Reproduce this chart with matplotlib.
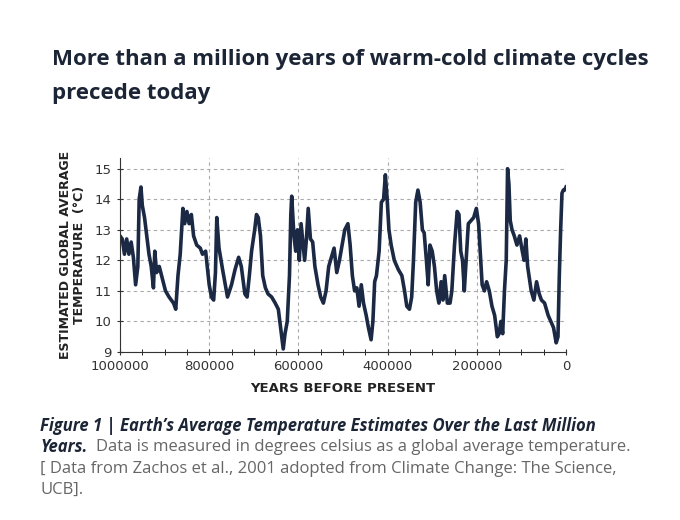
import matplotlib
matplotlib.use('Agg')
import matplotlib.pyplot as plt
from matplotlib.ticker import MultipleLocator

# kyr before present, temperature (°C)
kyr = [1000, 995, 990, 985, 980, 975, 970, 965, 960, 957, 953, 950, 945, 940, 935, 930, 925, 922, 918, 912,
       905, 898, 890, 880, 875, 870, 865, 859, 855, 850, 845, 840, 835, 828, 820, 815, 808, 800, 795, 790,
       786, 783, 778, 770, 764, 759, 750, 742, 734, 728, 720, 715, 710, 705, 698, 694, 690, 685, 680, 674,
       668, 660, 652, 645, 640, 634, 630, 625, 620, 617, 615, 610, 606, 602, 598, 594, 590, 586, 582, 578,
       573, 568, 563, 556, 550, 544, 538, 532, 526, 520, 514, 508, 502, 496, 489, 484, 479, 474, 469, 464,
       459, 454, 448, 443, 437, 433, 429, 425, 419, 414, 409, 405, 401, 397, 392, 385, 376, 368, 362, 357,
       351, 346, 342, 337, 332, 327, 322, 318, 313, 309, 305, 300, 295, 290, 285, 280, 276, 272, 266, 260,
       256, 250, 244, 240, 236, 232, 228, 224, 219, 213, 207, 201, 196, 192, 188, 183, 178, 172, 166, 160,
       154, 150, 146, 142, 138, 134, 131, 128, 125, 121, 116, 110, 104, 98, 94, 90, 86, 82, 78, 72,
       66, 60, 55, 48, 40, 34, 28, 22, 18, 15, 12, 9, 6, 3, 0]
temp = [12.8, 12.7, 12.2, 12.7, 12.2, 12.6, 12.1, 11.2, 11.8, 14.0, 14.4, 13.8, 13.4, 12.8, 12.2, 11.8, 11.1, 12.3, 11.6, 11.8,
        11.4, 11.0, 10.8, 10.6, 10.4, 11.5, 12.2, 13.7, 13.2, 13.6, 13.2, 13.5, 12.8, 12.5, 12.4, 12.2, 12.3, 11.2, 10.8, 10.7,
        11.6, 13.4, 12.4, 11.7, 11.2, 10.8, 11.2, 11.7, 12.1, 11.8, 10.9, 10.8, 11.5, 12.3, 13.0, 13.5, 13.4, 12.8, 11.5, 11.1,
        10.9, 10.8, 10.6, 10.4, 9.8, 9.1, 9.6, 10.0, 11.5, 13.5, 14.1, 12.8, 12.3, 13.0, 12.0, 13.2, 12.6, 12.0, 12.7, 13.7,
        12.7, 12.6, 11.8, 11.2, 10.8, 10.6, 11.0, 11.8, 12.1, 12.4, 11.6, 12.0, 12.5, 13.0, 13.2, 12.5, 11.5, 11.0, 11.1, 10.5,
        11.2, 10.6, 10.2, 9.8, 9.4, 10.0, 11.3, 11.5, 12.3, 13.9, 14.0, 14.8, 14.0, 13.0, 12.5, 12.0, 11.7, 11.5, 11.0, 10.5,
        10.4, 10.8, 12.0, 13.9, 14.3, 13.9, 13.0, 12.9, 12.0, 11.2, 12.5, 12.3, 11.8, 11.0, 10.6, 11.3, 10.7, 11.5, 10.6, 10.6,
        11.0, 12.5, 13.6, 13.5, 12.3, 12.0, 11.0, 12.0, 13.2, 13.3, 13.4, 13.7, 13.2, 12.2, 11.2, 11.0, 11.3, 11.0, 10.5, 10.2,
        9.5, 9.6, 10.0, 9.6, 11.0, 12.0, 15.0, 14.5, 13.3, 13.0, 12.8, 12.5, 12.8, 12.3, 12.0, 12.7, 11.8, 11.4, 11.0, 10.7,
        11.3, 10.9, 10.7, 10.6, 10.2, 10.0, 9.8, 9.3, 9.5, 11.5, 13.0, 14.2, 14.3, 14.3, 14.4]
years = [k * 1000 for k in kyr]

navy = '#1b2945'
fig = plt.figure(figsize=(6.8, 5.2), dpi=100)
fig.patch.set_facecolor('white')

fig.text(52 / 680, 1 - 60 / 520, 'More than a million years of warm-cold climate cycles', fontsize=16,
         fontweight='bold', color='#1c2535', va='center', family='Open Sans')
fig.text(52 / 680, 1 - 93 / 520, 'precede today', fontsize=16,
         fontweight='bold', color='#1c2535', va='center', family='Open Sans')

ax = fig.add_axes([120 / 680, 1 - 352 / 520, 446 / 680, 194 / 520])
ax.plot(years, temp, color=navy, lw=2.6, solid_joinstyle='round')
ax.set_xlim(1000000, 0)
ax.set_ylim(9, 15.35)
ax.set_xticks([1000000, 800000, 600000, 400000, 200000, 0])
ax.set_xticklabels(['1000000', '800000', '600000', '400000', '200000', '0'])
ax.xaxis.set_minor_locator(MultipleLocator(50000))
ax.set_yticks(range(9, 16))
ax.grid(True, which='major', linestyle=(0, (3, 3)), color='#aaaaaa', lw=0.8)
for s in ['top', 'right']:
    ax.spines[s].set_visible(False)
for s in ['left', 'bottom']:
    ax.spines[s].set_color('#333333')
ax.tick_params(labelsize=9.5, colors='#333333', direction='inout', length=5)
ax.tick_params(which='minor', direction='inout', length=4)
ax.set_xlabel('YEARS BEFORE PRESENT', fontsize=9.5, fontweight='bold', color='#222222', labelpad=6)
ax.set_ylabel('ESTIMATED GLOBAL AVERAGE\nTEMPERATURE  (°C)', fontsize=9, fontweight='bold',
              color='#222222', labelpad=6, linespacing=1.1)

cap = dict(fontsize=12, va='center', family='Open Sans')
fig.text(40 / 680, 1 - 426 / 520, 'Figure 1 | Earth\u2019s Average Temperature Estimates Over the Last Million',
         fontweight='bold', style='italic', color='#1c2535', **cap)
fig.text(40 / 680, 1 - 447 / 520, 'Years.', fontweight='bold', style='italic', color='#1c2535', **cap)
fig.text(96 / 680, 1 - 447 / 520, 'Data is measured in degrees celsius as a global average temperature.',
         color='#666666', **cap)
fig.text(40 / 680, 1 - 469 / 520, '[ Data from Zachos et al., 2001 adopted from Climate Change: The Science,',
         color='#666666', **cap)
fig.text(40 / 680, 1 - 490 / 520, 'UCB].', color='#666666', **cap)

fig.savefig('out.png', dpi=100)
